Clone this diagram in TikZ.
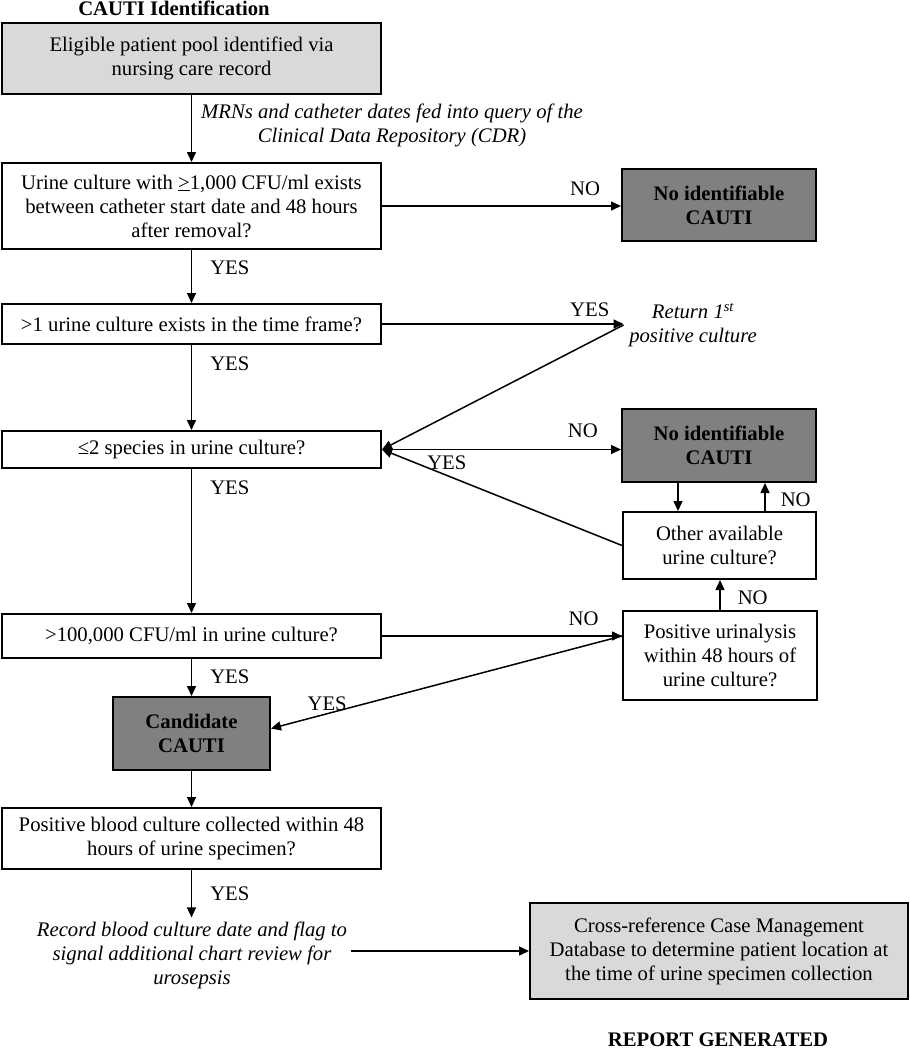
\documentclass[tikz,border=0pt]{standalone}
\usepackage{fontspec}
\setmainfont{Liberation Serif}
\usetikzlibrary{arrows.meta}

\definecolor{lightfill}{HTML}{D9D9D9}
\definecolor{darkfill}{HTML}{808080}
\newcommand{\boxfont}{\fontsize{20.7}{24}\selectfont}

\begin{document}
\begin{tikzpicture}[x=1pt, y=-1pt, line width=1.5pt, font=\boxfont,
    box/.style={draw, line width=2pt, minimum width=379, align=center, inner sep=2pt},
    lightbox/.style={box, fill=lightfill},
    darkbox/.style={box, fill=darkfill, minimum width=194, font=\boxfont\bfseries},
    note/.style={align=center, font=\boxfont\itshape},
    lbl/.style={inner sep=1pt},
    arr/.style={-{Triangle[length=10pt,width=9pt]}}]
    \useasboundingbox (0,0) rectangle (910,1050);

    % Title
    \node[font=\boxfont\bfseries, anchor=base] (title) at (174,15.5) {CAUTI Identification};

    % Main column
    \node[lightbox, minimum height=71] (pool) at (191.5,58.5) {Eligible patient pool identified via\\nursing care record};
    \node[note] (query) at (392,125) {MRNs and catheter dates fed into query of the\\Clinical Data Repository (CDR)};
    \node[box, minimum height=86] (culture) at (191.5,206) {Urine culture with \underline{>}1,000 CFU/ml exists\\between catheter start date and 48 hours\\after removal?};
    \node[box, minimum height=40] (multi) at (191.5,324) {>1 urine culture exists in the time frame?};
    \node[box, minimum height=37] (species) at (191.5,449.5) {≤2 species in urine culture?};
    \node[box, minimum height=44] (count) at (191.5,636) {>100,000 CFU/ml in urine culture?};
    \node[darkbox, minimum width=157, minimum height=73] (candidate) at (191.5,733.5) {Candidate\\CAUTI};
    \node[box, minimum height=61] (blood) at (191.5,838.5) {Positive blood culture collected within 48\\hours of urine specimen?};
    \node[note] (record) at (192,955) {Record blood culture date and flag to\\signal additional chart review for\\urosepsis};

    % Right column
    \node[darkbox, minimum height=72] (none1) at (719,205) {No identifiable\\CAUTI};
    \node[note, inner sep=5pt] (first) at (693,325) {Return 1\textsuperscript{st}\\positive culture};
    \node[darkbox, minimum height=73] (none2) at (719,445.5) {No identifiable\\CAUTI};
    \node[box, minimum width=193, minimum height=67] (other) at (719.5,545.5) {Other available\\urine culture?};
    \node[box, minimum width=194, minimum height=89] (urinalysis) at (720,655.5) {Positive urinalysis\\within 48 hours of\\urine culture?};
    \node[lightbox, minimum width=378, minimum height=96] (crossref) at (719,951) {Cross-reference Case Management\\Database to determine patient location at\\the time of urine specimen collection};
    \node[font=\boxfont\bfseries] (report) at (718,1040) {REPORT GENERATED};

    % Downward arrows
    \draw[arr] (pool) -- (culture);
    \draw[arr] (culture) -- node[lbl, pos=0.33, right=17pt] {YES} (multi);
    \draw[arr] (multi) -- node[lbl, pos=0.22, right=17pt] {YES} (species);
    \draw[arr] (species) -- node[lbl, pos=0.13, right=17pt] {YES} (count);
    \draw[arr] (count) -- node[lbl, pos=0.49, right=17pt] {YES} (candidate);
    \draw[arr] (candidate) -- (blood);
    \draw[arr] (blood.south) -- node[lbl, pos=0.5, right=17pt] {YES} (blood.south |- record.north);

    % Sideways arrows
    \draw[arr] (culture.east) -- node[lbl, pos=0.85, above=9pt] {NO} (culture.east -| none1.west);
    \draw[arr] (multi.east) -- node[lbl, pos=0.86, above=6pt] {YES} (multi.east -| first.west);
    \draw[arr] (first.west) -- (species.east);
    \draw[arr] (species.east) -- node[lbl, pos=0.84, above=10pt] {NO} (species.east -| none2.west);
    \draw[arr] (other.west) -- node[lbl, pos=0.73, above=4pt] {YES} (species.east);
    \draw[arr] (count.east) -- node[lbl, pos=0.84, above=9pt] {NO} (count.east -| urinalysis.west);
    \draw[arr] (count.east -| urinalysis.west) -- node[lbl, pos=0.84, above=1pt] {YES} ([yshift=5pt]candidate.east);
    \draw[arr] (record.east |- crossref.west) -- (crossref.west);

    % Loop on the right
    \draw[arr] ([xshift=-41pt]none2.south) -- ([xshift=-41.5pt]other.north);
    \draw[arr] ([xshift=45.5pt]other.north) -- node[lbl, pos=0.4, right=14pt] {NO} ([xshift=46pt]none2.south);
    \draw[arr] (urinalysis.north) -- node[lbl, pos=0.4, right=16pt] {NO} (urinalysis.north |- other.south);
\end{tikzpicture}
\end{document}
